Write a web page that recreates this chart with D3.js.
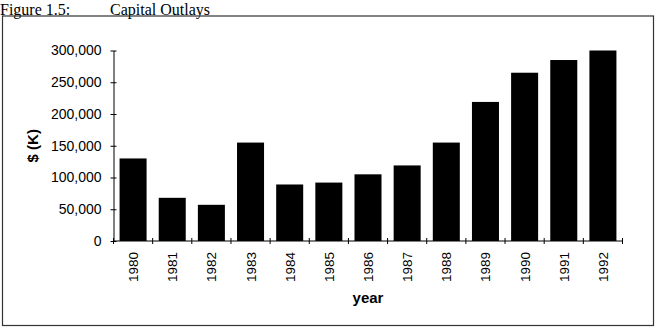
<!DOCTYPE html>
<html>
<head>
<meta charset="utf-8">
<script src="https://cdn.jsdelivr.net/npm/d3@7"></script>
<style>
  body { margin: 0; background: #fff; }
  text { font-family: "Liberation Sans", Arial, sans-serif; fill: #000; }
</style>
</head>
<body>
<div id="container"></div>
<script>
const years = ['1980', '1981', '1982', '1983', '1984', '1985', '1986',
  '1987', '1988', '1989', '1990', '1991', '1992'];
const outlays = [130000, 68000, 57000, 155000, 89000, 92000, 105000,
  119000, 155000, 219000, 265000, 285000, 300000];
const yTicks = [0, 50000, 100000, 150000, 200000, 250000, 300000];

const w = 657;
const h = 328;

const svg = d3.select('#container')
  .append('svg')
  .attr('width', w)
  .attr('height', h);

// title + frame
svg.append('text')
  .attr('x', 0)
  .attr('y', 14.5)
  .style('font-family', '"Liberation Serif", "Times New Roman", serif')
  .style('font-size', '16px')
  .text('Figure 1.5:');

svg.append('text')
  .attr('x', 110)
  .attr('y', 14.5)
  .style('font-family', '"Liberation Serif", "Times New Roman", serif')
  .style('font-size', '16px')
  .text('Capital Outlays');

svg.append('rect')
  .attr('x', 2.5)
  .attr('y', 16)
  .attr('width', 651)
  .attr('height', 309.5)
  .attr('fill', 'none')
  .attr('stroke', '#333')
  .attr('stroke-width', 1.2);

const pLeft = 113.5;
const pRight = 622.5;
const pTop = 50.5;
const pBottom = 241;

const x = d3.scaleBand()
  .domain(years)
  .range([pLeft, pRight])
  .paddingInner(0.31)
  .paddingOuter(0.155);

const y = d3.scaleLinear()
  .domain([0, 300000])
  .range([pBottom, pTop]);

// bars
svg.selectAll('rect.bar')
  .data(outlays)
  .enter()
  .append('rect')
  .attr('class', 'bar')
  .attr('x', (d, i) => x(years[i]))
  .attr('y', d => y(d))
  .attr('width', x.bandwidth())
  .attr('height', d => y(0) - y(d))
  .attr('fill', '#000');

// y axis
const yAxis = d3.axisLeft(y)
  .tickValues(yTicks)
  .tickFormat(d3.format(','))
  .tickSizeInner(3)
  .tickSizeOuter(0)
  .tickPadding(9);

const gy = svg.append('g')
  .attr('transform', 'translate(' + pLeft + ',0)')
  .call(yAxis);
gy.selectAll('.tick line').attr('x2', 3).attr('x1', -3);
gy.selectAll('text').style('font-size', '14px').attr('fill', '#000');
gy.select('.domain').attr('stroke', '#000');

// x axis, ticks at band edges
const edges = years.map(yr => x(yr) - x.step() * x.paddingInner() / 2)
  .concat([pRight]);

const gx = svg.append('g');
gx.append('line')
  .attr('x1', pLeft).attr('x2', pRight)
  .attr('y1', pBottom).attr('y2', pBottom)
  .attr('stroke', '#000');
gx.selectAll('line.tk')
  .data(edges)
  .enter()
  .append('line')
  .attr('class', 'tk')
  .attr('x1', d => d).attr('x2', d => d)
  .attr('y1', pBottom - 3).attr('y2', pBottom + 3)
  .attr('stroke', '#000');

gx.selectAll('text')
  .data(years)
  .enter()
  .append('text')
  .attr('transform', d => 'translate(' + (x(d) + x.bandwidth() / 2 + 5) + ',' + (pBottom + 11) + ') rotate(-90)')
  .attr('text-anchor', 'end')
  .style('font-size', '13.5px')
  .text(d => d);

// axis titles
svg.append('text')
  .attr('x', (pLeft + pRight) / 2)
  .attr('y', 303)
  .attr('text-anchor', 'middle')
  .style('font-size', '15px')
  .style('font-weight', 'bold')
  .text('year');

svg.append('text')
  .attr('transform', 'translate(38,' + ((pTop + pBottom) / 2) + ') rotate(-90)')
  .attr('text-anchor', 'middle')
  .style('font-size', '15px')
  .style('font-weight', 'bold')
  .text('$ (K)');
</script>
</body>
</html>
